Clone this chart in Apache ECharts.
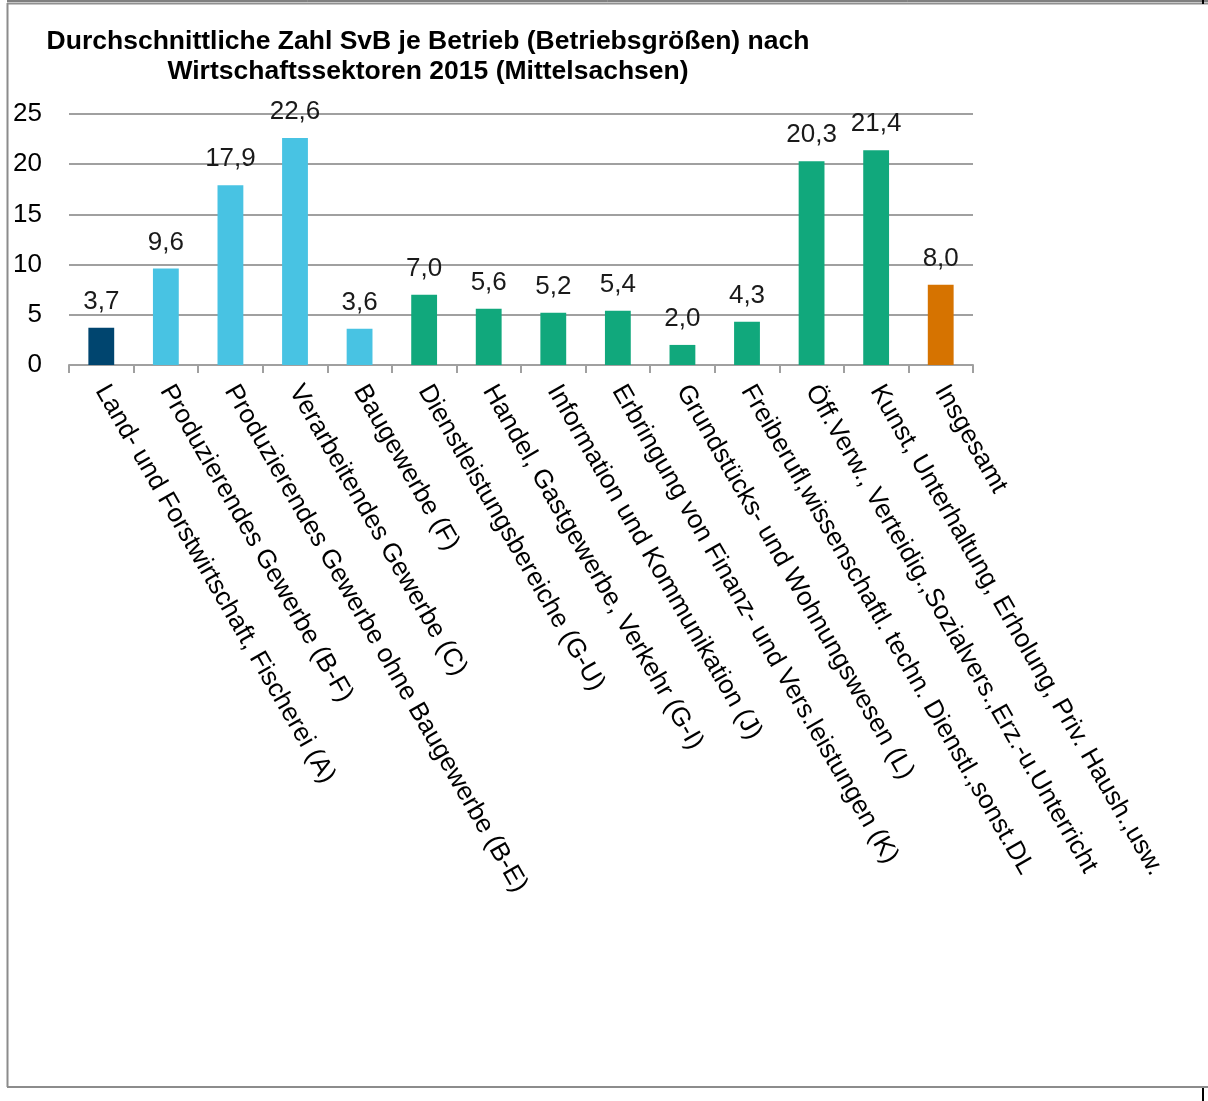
<!DOCTYPE html>
<html>
<head>
<meta charset="utf-8">
<script src="https://cdn.jsdelivr.net/npm/echarts@6/dist/echarts.min.js"></script>
<style>
html,body{margin:0;padding:0;background:#fff;}
#main{width:1208px;height:1101px;}
</style>
</head>
<body>
<div id="main"></div>
<script>
var titleLines = [
  'Durchschnittliche Zahl SvB je Betrieb (Betriebsgrößen) nach',
  'Wirtschaftssektoren 2015 (Mittelsachsen)'
];
var categories = [
  'Land- und Forstwirtschaft, Fischerei (A)',
  'Produzierendes Gewerbe (B-F)',
  'Produzierendes Gewerbe ohne Baugewerbe (B-E)',
  'Verarbeitendes Gewerbe (C)',
  'Baugewerbe (F)',
  'Dienstleistungsbereiche (G-U)',
  'Handel, Gastgewerbe, Verkehr (G-I)',
  'Information und Kommunikation (J)',
  'Erbringung von Finanz- und Vers.leistungen (K)',
  'Grundstücks- und Wohnungswesen (L)',
  'Freiberufl,wissenschaftl. techn. Dienstl.,sonst.DL',
  'Öff.Verw., Verteidig.,Sozialvers.,Erz.-u.Unterricht',
  'Kunst, Unterhaltung, Erholung, Priv. Haush.,usw.',
  'Insgesamt'
];
var values = [3.7, 9.6, 17.9, 22.6, 3.6, 7.0, 5.6, 5.2, 5.4, 2.0, 4.3, 20.3, 21.4, 8.0];
var groups = ['A', 'P', 'P', 'P', 'P', 'D', 'D', 'D', 'D', 'D', 'D', 'D', 'D', 'T'];
var groupColors = { A: '#00456f', P: '#48c3e3', D: '#11a87c', T: '#d67300' };
var yTicks = [0, 5, 10, 15, 20, 25];

var FONT = '"Liberation Sans", Arial, sans-serif';
var chart = echarts.init(document.getElementById('main'), null, {renderer: 'canvas'});

var barData = values.map(function (v, i) {
  return { value: v, itemStyle: { color: groupColors[groups[i]] } };
});

chart.setOption({
  animation: false,
  backgroundColor: '#ffffff',
  graphic: [
    { type: 'line', shape: {x1: 7, y1: 1, x2: 1208, y2: 1}, style: {stroke: '#000', lineWidth: 1}, silent: true },
    { type: 'line', shape: {x1: 7, y1: 3.5, x2: 1208, y2: 3.5}, style: {stroke: '#909090', lineWidth: 2}, silent: true },
    { type: 'line', shape: {x1: 7.5, y1: 3, x2: 7.5, y2: 1087}, style: {stroke: '#8c8c8c', lineWidth: 2}, silent: true },
    { type: 'line', shape: {x1: 7, y1: 1087, x2: 1208, y2: 1087}, style: {stroke: '#8c8c8c', lineWidth: 2}, silent: true },
    { type: 'line', shape: {x1: 1203, y1: 0, x2: 1203, y2: 4}, style: {stroke: '#000', lineWidth: 2}, silent: true },
    { type: 'line', shape: {x1: 1203, y1: 1088, x2: 1203, y2: 1101}, style: {stroke: '#000', lineWidth: 2}, silent: true },
    {
      type: 'text', x: 428, y: 27, silent: true,
      style: {
        text: titleLines.join('\n'),
        textAlign: 'center', textVerticalAlign: 'top',
        font: 'bold 26.5px "Liberation Sans", Arial, sans-serif', lineHeight: 30, fill: '#000'
      }
    }
  ],
  grid: { left: 69, right: 235, top: 114, bottom: 736, containLabel: false },
  xAxis: {
    type: 'category',
    data: categories,
    boundaryGap: true,
    axisLine: { show: true, lineStyle: { color: '#a0a0a0', width: 2 } },
    axisTick: { show: true, length: 8, alignWithLabel: false, lineStyle: { color: '#a0a0a0', width: 2 } },
    axisLabel: { interval: 0, rotate: -60, margin: 22, fontSize: 26, fontFamily: FONT, color: '#000' }
  },
  yAxis: {
    type: 'value',
    min: yTicks[0], max: yTicks[yTicks.length - 1], interval: 5,
    axisLine: { show: false },
    axisTick: { show: false },
    axisLabel: { margin: 27, fontSize: 26, fontFamily: FONT, color: '#000' },
    splitLine: { show: true, lineStyle: { color: '#a0a0a0', width: 2 } }
  },
  series: [{
    type: 'bar',
    data: barData,
    barWidth: '40%',
    label: {
      show: true, position: 'top', distance: 13,
      fontSize: 26, fontFamily: FONT, color: '#1a1a1a',
      formatter: function (p) { return p.value.toFixed(1).replace('.', ','); }
    }
  }]
});
</script>
</body>
</html>
